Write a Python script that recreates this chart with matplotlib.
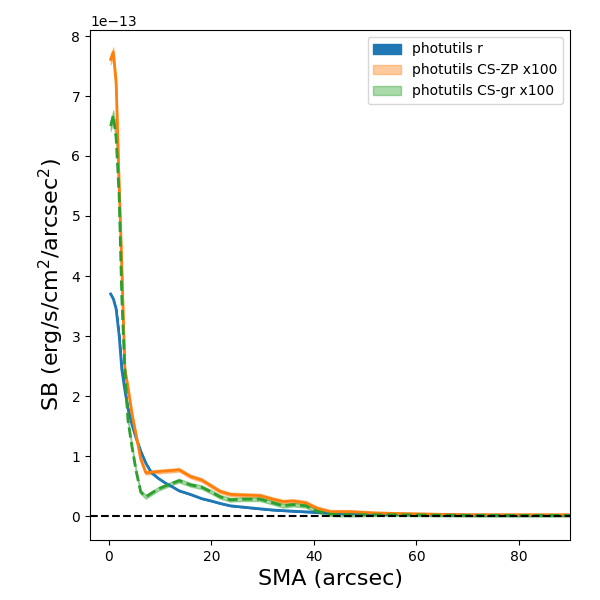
import numpy as np
import matplotlib
matplotlib.use('Agg')
import matplotlib.pyplot as plt

# радиусы (arcsec)
sma = [0.33, 0.85, 1.4, 2.0, 2.5, 3.1, 3.7, 4.5, 5.3, 6.2, 7.2, 8.3, 9.6, 11, 12.5, 13.7,
       15.9, 18.1, 20, 21.7, 23.7, 26, 29.5, 32, 34, 36, 38.4, 40.6, 43.2, 47, 52, 57,
       63, 70, 78, 86, 95]

# профили в единицах 1e-13
sb_r = [3.7, 3.62, 3.45, 3.0, 2.45, 2.1, 1.8, 1.52, 1.3, 1.08, 0.88, 0.72, 0.63, 0.55,
        0.48, 0.42, 0.36, 0.29, 0.25, 0.21, 0.17, 0.15, 0.12, 0.1, 0.09, 0.08, 0.07, 0.06,
        0.05, 0.04, 0.03, 0.025, 0.02, 0.015, 0.012, 0.01, 0.01]
sb_zp = [7.61, 7.73, 7.22, 5.5, 4.2, 2.45, 2.15, 1.7, 1.35, 0.95, 0.72, 0.73, 0.74, 0.75,
         0.76, 0.77, 0.66, 0.6, 0.5, 0.41, 0.36, 0.35, 0.34, 0.28, 0.24, 0.25, 0.22, 0.13,
         0.07, 0.07, 0.05, 0.04, 0.03, 0.02, 0.02, 0.02, 0.02]
sb_gr = [6.5, 6.68, 6.3, 5.33, 3.66, 2.45, 1.6, 1.15, 0.75, 0.4, 0.32, 0.38, 0.45, 0.5,
         0.55, 0.59, 0.52, 0.48, 0.4, 0.32, 0.27, 0.28, 0.28, 0.22, 0.17, 0.19, 0.17, 0.08,
         0.03, 0.02, 0.02, 0.02, 0.015, 0.01, 0.01, 0.01, 0.01]

# ошибки
err_r = [0.01] * 2 + [0.008] * 8 + [0.005] * 27
err_zp = [0.08, 0.08, 0.07, 0.06, 0.05, 0.04, 0.04, 0.04, 0.03, 0.03, 0.03, 0.03, 0.03, 0.03,
          0.03, 0.03, 0.03, 0.03, 0.03, 0.03, 0.03, 0.03, 0.03, 0.03, 0.03, 0.03, 0.03, 0.03,
          0.03, 0.03, 0.02, 0.02, 0.02, 0.02, 0.02, 0.02, 0.02]
err_gr = [0.08, 0.08, 0.07, 0.06, 0.05, 0.04, 0.04, 0.04, 0.03, 0.03, 0.03, 0.03, 0.03, 0.03,
          0.03, 0.03, 0.03, 0.03, 0.03, 0.03, 0.03, 0.03, 0.03, 0.03, 0.03, 0.03, 0.03, 0.03,
          0.03, 0.03, 0.02, 0.02, 0.02, 0.02, 0.02, 0.02, 0.02]

scale = 1e-13
x = np.array(sma)
r = np.array(sb_r) * scale
zp = np.array(sb_zp) * scale
gr = np.array(sb_gr) * scale
er = np.array(err_r) * scale
ezp = np.array(err_zp) * scale
egr = np.array(err_gr) * scale

fig, ax = plt.subplots(figsize=(6, 6), dpi=100)
fig.subplots_adjust(left=0.15, right=0.95, bottom=0.1, top=0.95)

ax.fill_between(x, r - er, r + er, color='C0', alpha=1.0, label='photutils r')
ax.plot(x, r, color='C0', lw=2)
ax.fill_between(x, zp - ezp, zp + ezp, color='C1', alpha=0.4, label='photutils CS-ZP x100')
ax.plot(x, zp, color='C1', lw=2)
ax.fill_between(x, gr - egr, gr + egr, color='C2', alpha=0.4, label='photutils CS-gr x100')
ax.plot(x, gr, color='C2', lw=2, ls='--')

ax.axhline(0, color='k', ls='--')
ax.set_xlim(-3.7, 90)
ax.set_ylim(-0.4e-13, 8.1e-13)
ax.set_xlabel('SMA (arcsec)', fontsize=16)
ax.set_ylabel('SB (erg/s/cm$^2$/arcsec$^2$)', fontsize=16)
ax.legend(loc='upper right')

plt.savefig('out.png')
